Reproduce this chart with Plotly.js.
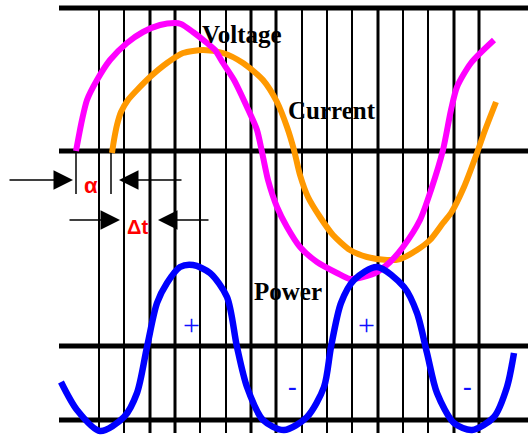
<!DOCTYPE html>
<html>
<head>
<meta charset="utf-8">
<script src="https://cdn.plot.ly/plotly-3.0.1.min.js"></script>
<style>
  html, body { margin: 0; padding: 0; background: #fff; }
  #divplot { width: 528px; height: 439px; }
</style>
</head>
<body>
<div id="divplot"></div>
<script>
// values (x = time, y = screen height, downwards)
var timeV = [76, 79, 82, 87, 97, 110, 127, 143, 160, 175, 181, 193, 207, 215, 223, 234, 247, 257, 262, 268, 277, 287, 300, 317, 337, 350, 363, 377, 390, 403, 420, 431, 443, 451, 457, 471, 494];
var voltV = [151, 135, 120, 100, 80, 60, 43, 32, 25, 23, 24, 32, 43, 50, 63, 80, 107, 130, 152, 180, 207, 227, 247, 262, 273, 279, 277, 272, 262, 247, 220, 190, 150, 110, 87, 63, 40];

var timeI = [112, 114, 117, 121, 128, 137, 150, 167, 183, 203, 223, 243, 263, 277, 287, 294, 300, 308, 320, 333, 350, 367, 387, 400, 417, 430, 443, 451, 464, 477, 484, 496];
var curI = [153, 140, 125, 112, 100, 90, 77, 63, 53, 50, 53, 63, 80, 102, 127, 150, 175, 197, 217, 235, 250, 257, 260, 259, 250, 240, 223, 213, 187, 153, 133, 102];

var timeP = [61, 77, 100, 124, 137, 147, 157, 167, 180, 193, 210, 227, 237, 247, 263, 284, 307, 324, 331, 341, 354, 377, 404, 417, 427, 437, 454, 472, 494, 507, 514];
var powP = [382, 410, 431, 417, 393, 347, 303, 283, 267, 265, 273, 297, 347, 387, 420, 430, 417, 387, 347, 303, 280, 267, 287, 313, 353, 393, 423, 430, 417, 387, 353];

// grid: time marks and level lines
var gridX = [99, 124, 150, 175, 200, 226, 251, 276, 302, 327, 352, 378, 403, 428, 454, 479];
var gridW = [2, 2, 3, 3, 2, 2, 3, 3, 2, 2, 2, 3, 2, 2, 3, 3];
var levelY = [8, 151, 346, 420];

// phase shift markers
var alphaX = [76, 111];

var labels = ['Voltage', 'Current', 'Power'];
var labelX = [242, 332, 288];
var labelY = [34, 110, 291];

var signs = ['+', '+', '-', '-'];
var signX = [191, 366, 292, 467];
var signY = [324, 324, 386, 386];

var shapes = [];
gridX.forEach(function(x, i){
    shapes.push({type: 'line', xref: 'x', yref: 'y', x0: x, x1: x, y0: 8, y1: 433,
        line: {color: '#000', width: gridW[i]}, layer: 'below'});
});
levelY.forEach(function(y){
    shapes.push({type: 'line', xref: 'x', yref: 'y', x0: 59, x1: 528, y0: y, y1: y,
        line: {color: '#000', width: 5}, layer: 'below'});
});
alphaX.forEach(function(x){
    shapes.push({type: 'line', xref: 'x', yref: 'y', x0: x, x1: x, y0: 151, y1: 194,
        line: {color: '#000', width: 1.5}, layer: 'below'});
});

var annotations = [];
labels.forEach(function(t, i){
    annotations.push({x: labelX[i], y: labelY[i], xref: 'x', yref: 'y', text: t, showarrow: false,
        font: {family: 'Liberation Serif', size: 25, color: '#000', weight: 'bold'}});
});
signs.forEach(function(t, i){
    var plus = t == '+';
    annotations.push({x: signX[i], y: signY[i], xref: 'x', yref: 'y', text: t, showarrow: false,
        font: {family: 'Liberation Serif', size: plus ? 30 : 26, color: '#1010ff', weight: plus ? 'normal' : 'bold'}});
});
annotations.push({x: 91, y: 185, xref: 'x', yref: 'y', text: '\u03b1', showarrow: false,
    font: {family: 'Liberation Sans', size: 22, color: '#ff0000', weight: 'bold'}});
annotations.push({x: 137, y: 227, xref: 'x', yref: 'y', text: '\u0394t', showarrow: false,
    font: {family: 'Liberation Sans', size: 20, color: '#ff0000', weight: 'bold'}});

// arrows: tip and tail
var arrowTip = [[73, 180], [119, 180], [120, 220], [158, 220]];
var arrowTail = [[8, 180], [183, 180], [68, 220], [210, 220]];
arrowTip.forEach(function(p, i){
    annotations.push({x: p[0], y: p[1], ax: arrowTail[i][0], ay: arrowTail[i][1],
        xref: 'x', yref: 'y', axref: 'x', ayref: 'y', text: '', showarrow: true,
        arrowhead: 2, arrowwidth: 1.5, arrowsize: 2.6, arrowcolor: '#000'});
});

var voltage = {x: timeV, y: voltV, mode: 'lines', name: 'Voltage',
    line: {color: '#ff00ff', width: 6, shape: 'spline', smoothing: 0.7}};
var current = {x: timeI, y: curI, mode: 'lines', name: 'Current',
    line: {color: '#ff9900', width: 6, shape: 'spline', smoothing: 0.7}};
var power = {x: timeP, y: powP, mode: 'lines', name: 'Power',
    line: {color: '#0000ff', width: 6.5, shape: 'spline', smoothing: 0.8}};

var layout = {
    width: 528,
    height: 439,
    margin: {l: 0, r: 0, t: 0, b: 0},
    paper_bgcolor: '#fff',
    plot_bgcolor: '#fff',
    showlegend: false,
    xaxis: {range: [0, 528], visible: false, fixedrange: true},
    yaxis: {range: [439, 0], visible: false, fixedrange: true},
    shapes: shapes,
    annotations: annotations
};

Plotly.newPlot('divplot', [current, voltage, power], layout, {displayModeBar: false, staticPlot: true});
</script>
</body>
</html>
